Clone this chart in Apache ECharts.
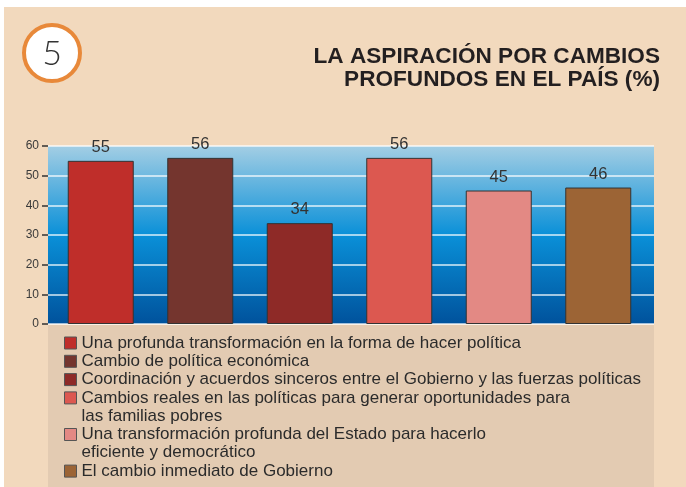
<!DOCTYPE html>
<html>
<head>
<meta charset="utf-8">
<script src="https://cdn.jsdelivr.net/npm/echarts@6/dist/echarts.min.js"></script>
<style>
html,body{margin:0;padding:0;background:#fff;}
#c{width:686px;height:487px;}
</style>
</head>
<body>
<div id="c"></div>
<script>
// ---- data ----
const categories = [
  'Una profunda transformación en la forma de hacer política',
  'Cambio de política económica',
  'Coordinación y acuerdos sinceros entre el Gobierno y las fuerzas políticas',
  'Cambios reales en las políticas para generar oportunidades para\nlas familias pobres',
  'Una transformación profunda del Estado para hacerlo\neficiente y democrático',
  'El cambio inmediato de Gobierno'
];
const values = [55, 56, 34, 56, 45, 46];
const barColors = ['#bf2e2a', '#74352e', '#8e2a27', '#dc5850', '#e38984', '#9c6435'];
const yTicks = { min: 0, max: 60, interval: 10 };
const titleLines = ['LA ASPIRACIÓN POR CAMBIOS', 'PROFUNDOS EN EL PAÍS (%)'];
const badgeText = '5';

// ---- layout ----
const FONT = '"Liberation Sans", Arial, Helvetica, sans-serif';
const LH = 18.3;
const firstLineY = 343;
const legendLine = [];
{ let k = 0; categories.forEach(n => { legendLine.push(k); k += n.split('\n').length; }); }

const series = categories.map((name, i) => ({
  name: name,
  type: 'bar',
  xAxisIndex: 1,
  yAxisIndex: 1,
  stack: 'all',
  barWidth: 66,
  data: values.map((v, j) => j === i ? v : '-'),
  itemStyle: { color: barColors[i], borderColor: '#333', borderWidth: 1 },
  label: { show: true, position: 'top', distance: 5, fontSize: 16.5, color: '#333', fontFamily: FONT }
}));

const legends = categories.map((name, i) => {
  const lines = name.split('\n').length;
  const cy = firstLineY + LH * legendLine[i];
  const pad = lines - 1; // blank leading lines so the icon sits beside the first line
  return {
    data: [name],
    orient: 'vertical',
    left: 64,
    top: cy - ((lines + pad) * LH) / 2,
    padding: 0,
    itemWidth: 12,
    itemHeight: 12,
    itemGap: 0,
    icon: 'rect',
    selectedMode: false,
    formatter: n => '\n'.repeat(pad) + n,
    itemStyle: { borderColor: '#555', borderWidth: 1 },
    textStyle: { fontSize: 17, color: '#2b2b2b', fontFamily: FONT, lineHeight: LH }
  };
});

const chart = echarts.init(document.getElementById('c'), null, { renderer: 'canvas' });
chart.setOption({
  backgroundColor: '#ffffff',
  animation: false,
  graphic: [
    { type: 'rect', z: -10, silent: true, shape: { x: 4, y: 7, width: 682, height: 480 }, style: { fill: '#f2d9bd' } },
    { type: 'rect', z: -9, silent: true, shape: { x: 48, y: 325, width: 606, height: 162 }, style: { fill: '#e3cbb2' } },
    { type: 'circle', z: 5, shape: { cx: 52, cy: 53, r: 28 }, style: { fill: '#ffffff', stroke: '#e8893a', lineWidth: 4 } },
    { type: 'text', z: 6, x: 52, y: 54, style: { text: badgeText, font: '300 34px Lato, "Open Sans", sans-serif', fill: '#333', align: 'center', verticalAlign: 'middle' } },
    { type: 'text', z: 6, x: 660, y: 57, style: { text: titleLines[0], font: 'bold 22.6px ' + FONT, fill: '#231f20', align: 'right', verticalAlign: 'middle' } },
    { type: 'text', z: 6, x: 660, y: 80, style: { text: titleLines[1], font: 'bold 22.6px ' + FONT, fill: '#231f20', align: 'right', verticalAlign: 'middle' } }
  ],
  legend: legends,
  grid: [
    { left: 48, width: 606, top: 146, height: 178, show: true, borderWidth: 0,
      backgroundColor: { type: 'linear', x: 0, y: 0, x2: 0, y2: 1,
        colorStops: [
          { offset: 0, color: '#a3cee4' },
          { offset: 0.5, color: '#0a90d8' },
          { offset: 1, color: '#00529c' }
        ] } },
    { left: 51, right: 38, top: 146, height: 178 }
  ],
  xAxis: [
    { type: 'category', gridIndex: 0, data: categories, show: false },
    { type: 'category', gridIndex: 1, data: categories, show: false }
  ],
  yAxis: [
    { type: 'value', gridIndex: 0, min: yTicks.min, max: yTicks.max, interval: yTicks.interval,
      axisLine: { show: false },
      axisTick: { show: true, length: 6, lineStyle: { color: '#333', width: 1.5 } },
      axisLabel: { margin: 9, fontSize: 12, color: '#3a3a3a', fontFamily: FONT },
      splitLine: { show: true, lineStyle: { color: 'rgba(255,255,255,0.85)', width: 1.5 } } },
    { type: 'value', gridIndex: 1, min: yTicks.min, max: yTicks.max, interval: yTicks.interval, show: false,
      splitLine: { show: false } }
  ],
  series: series
});
</script>
</body>
</html>
